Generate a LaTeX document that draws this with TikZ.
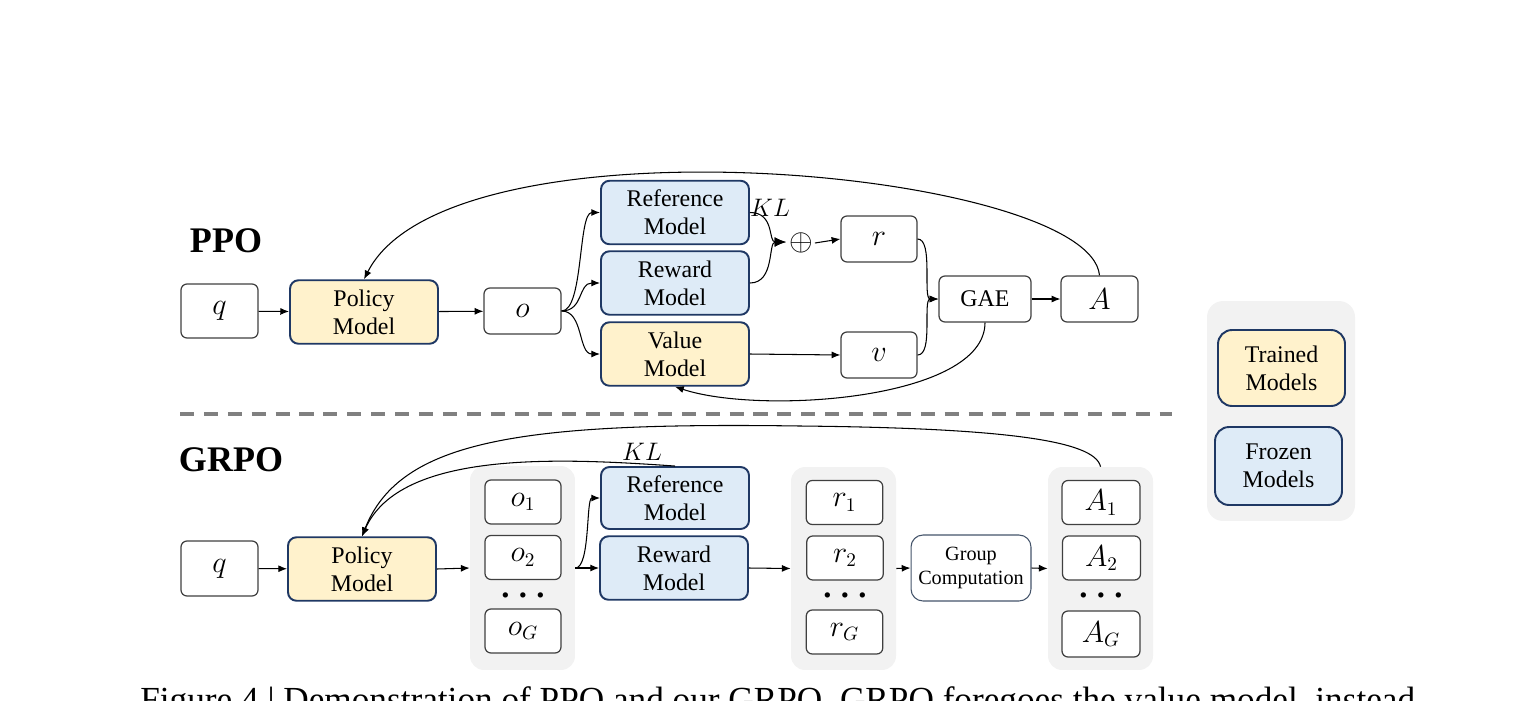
\documentclass[tikz,border=0pt]{standalone}
\usepackage{fontspec}
\setmainfont{Liberation Serif}
\usepackage{graphicx}
\usetikzlibrary{arrows.meta}
\definecolor{trainfill}{HTML}{FFF2CC}
\definecolor{frozenfill}{HTML}{DEEBF7}
\definecolor{modelborder}{HTML}{1F3864}
\definecolor{boxborder}{HTML}{404040}
\definecolor{groupbg}{HTML}{F2F2F2}
\definecolor{dashgray}{HTML}{808080}
\definecolor{gcborder}{HTML}{44546A}
\tikzset{
 model/.style={draw=modelborder, line width=1.1pt, rounded corners=0.17cm, align=center,
   font=\fontsize{13.6}{16}\selectfont, inner sep=0pt, minimum width=2.96cm, minimum height=1.27cm},
 trained/.style={model, fill=trainfill},
 frozen/.style={model, fill=frozenfill},
 var/.style={draw=boxborder, line width=0.7pt, rounded corners=0.12cm, fill=white, inner sep=0pt,
   minimum width=1.54cm, minimum height=0.92cm, font=\fontsize{16}{18}\selectfont},
 grp/.style={fill=groupbg, rounded corners=0.28cm, inner sep=0pt},
 conn/.style={line width=0.6pt, -{Latex[length=5pt,width=4pt]}},
 bigtip/.style={line width=0.6pt, -{Latex[length=6.5pt,width=5.5pt]}},
 title/.style={font=\fontsize{20.5}{24}\selectfont\bfseries, inner sep=0pt},
 dots/.style={font=\fontsize{7}{7}\selectfont, inner sep=0pt},
 gcomp/.style={draw=gcborder, line width=0.6pt, rounded corners=0.24cm, fill=white, align=center,
   inner sep=0pt, font=\fontsize{11.5}{13.5}\selectfont, minimum width=2.4cm, minimum height=1.32cm},
}
\newcommand{\threedots}{$\bullet\mkern9mu\bullet\mkern9mu\bullet$}
\begin{document}
\begin{tikzpicture}[x=0.02cm, y=-0.02cm]
\useasboundingbox (0,0) rectangle (1520,700);

% ---------------- PPO ----------------
\node[title] (ppo) at (226,241) {PPO};
\node[var, minimum height=1.08cm] (q1) at (219.5,311) {$q$};
\node[trained] (pol1) at (364,312) {Policy\\Model};
\node[var] (o1) at (522.5,311) {$o$};
\node[frozen] (ref1) at (675,212.5) {Reference\\Model};
\node[frozen] (rew1) at (675,283) {Reward\\Model};
\node[trained] (val1) at (675,354) {Value\\Model};
\node[font=\fontsize{15}{16}\selectfont, inner sep=0pt] (kl1) at (770,208) {$KL$};
\node[font=\fontsize{17}{18}\selectfont, inner sep=1pt] (plus) at (801,243) {$\oplus$};
\coordinate (plusin) at (786,242);
\node[var, minimum width=1.52cm] (r1) at (879,239) {$r$};
\node[var, minimum width=1.52cm] (v1) at (879,355) {$v$};
\node[var, minimum width=1.84cm, font=\fontsize{13.6}{16}\selectfont] (gae) at (985,299) {GAE};
\node[var] (a1) at (1099.5,299) {$A$};

\draw[conn] (q1) -- (pol1);
\draw[conn] (pol1) -- (o1);
\draw[conn] (o1.east) .. controls +(22,0) and +(-22,0) .. (ref1.west);
\draw[conn] (o1.east) .. controls +(22,0) and +(-22,0) .. (rew1.west);
\draw[conn] (o1.east) .. controls +(22,0) and +(-22,0) .. (val1.west);
\draw[bigtip] (ref1.east) .. controls +(25,0) and +(-18,0) .. (plusin);
\draw[bigtip] (rew1.east) .. controls +(25,0) and +(-18,0) .. (plusin);
\draw[conn] (plus.east) -- (r1.west);
\draw[conn] (r1.east) .. controls +(16,0) and +(-16,0) .. (gae.west);
\draw[conn] (v1.east) .. controls +(16,0) and +(-16,0) .. (gae.west);
\draw[conn] (val1.east) -- (v1.west);
\draw[conn] (gae) -- (a1);
\draw[conn] (a1.north) .. controls (1090,170) and (450,110) .. (pol1.north);
\draw[conn] (gae.south) .. controls (985,400) and (760,415) .. (val1.south);

% ---------------- divider ----------------
\coordinate (dl) at (180,414);
\coordinate (dr) at (1172,414);
\draw[dashgray, line width=2.2pt, dash pattern=on 8pt off 5.6pt] (dl) -- (dr);

% ---------------- legend ----------------
\node[grp, rounded corners=0.32cm, minimum width=2.96cm, minimum height=4.4cm] (legbg) at (1281,411) {};
\node[trained, rounded corners=0.28cm, minimum width=2.54cm, minimum height=1.52cm] (legt) at (1281.5,368) {Trained\\Models};
\node[frozen, rounded corners=0.28cm, minimum width=2.54cm, minimum height=1.56cm] (legf) at (1278.5,466) {Frozen\\Models};

% ---------------- GRPO ----------------
\node[title] (grpo) at (231,460) {GRPO};
\node[var, minimum height=1.1cm] (q2) at (219.5,568.5) {$q$};
\node[trained] (pol2) at (362,569) {Policy\\Model};

\node[grp, minimum width=2.1cm, minimum height=4.08cm] (og) at (522.5,568) {};
\node[var, minimum width=1.52cm, minimum height=0.88cm] (oa) at (523,502) {$o_1$};
\node[var, minimum width=1.52cm, minimum height=0.88cm] (ob) at (523,557.5) {$o_2$};
\node[dots] (od) at (523,596) {\threedots};
\node[var, minimum width=1.52cm, minimum height=0.88cm] (oc) at (523,631) {$o_G$};

\node[frozen, minimum height=1.24cm] (ref2) at (675,498) {Reference\\Model};
\node[frozen] (rew2) at (674,568) {Reward\\Model};
\node[font=\fontsize{15}{16}\selectfont, inner sep=0pt] (kl2) at (642,452) {$KL$};

\node[grp, minimum width=2.1cm, minimum height=4.06cm] (rg) at (843.5,568.5) {};
\node[var, minimum width=1.53cm, minimum height=0.88cm] (ra) at (844.5,502.5) {$r_1$};
\node[var, minimum width=1.53cm, minimum height=0.88cm] (rb) at (845,558) {$r_2$};
\node[dots] (rd) at (845,596) {\threedots};
\node[var, minimum width=1.53cm, minimum height=0.88cm] (rc) at (844.5,632) {$r_G$};

\node[gcomp] (gc) at (971,568) {Group\\Computation};

\node[grp, minimum width=2.1cm, minimum height=4.06cm] (ag) at (1100.5,568.5) {};
\node[var, minimum width=1.56cm, minimum height=0.88cm] (aa) at (1101,502.5) {$A_1$};
\node[var, minimum width=1.56cm, minimum height=0.88cm] (ab) at (1101.5,558) {$A_2$};
\node[dots] (ad) at (1101,596) {\threedots};
\node[var, minimum width=1.56cm, minimum height=0.92cm] (ac) at (1101,634) {$A_G$};

\draw[conn] (q2) -- (pol2);
\draw[conn] (pol2.east) -- (og.west);
\draw[conn] (og.east) -- (rew2.west);
\draw[conn] (og.east) .. controls +(15,0) and +(-14,0) .. (ref2.west);
\draw[conn] (rew2.east) -- (rg.west);
\draw[conn] (rg.east) -- (gc.west);
\draw[conn] (gc.east) -- (ag.west);
\coordinate (arcmid) at (800,426);
\draw[conn] (ag.north) .. controls (1095,440) and (1000,428) .. (arcmid)
   .. controls (520,422) and (400,440) .. (pol2.north);
\draw[conn] (ref2.north) .. controls (560,458) and (400,450) .. (pol2.north);

% ---------------- caption (cut by the lower edge) ----------------
\begin{scope}
\clip (0,0) rectangle (1520,700);
\node[anchor=north west, inner sep=0pt] (cap) at (140,686)
  {\resizebox{25.5cm}{!}{Figure 4 | Demonstration of PPO and our GRPO. GRPO foregoes the value model, instead}};
\end{scope}
\end{tikzpicture}
\end{document}
